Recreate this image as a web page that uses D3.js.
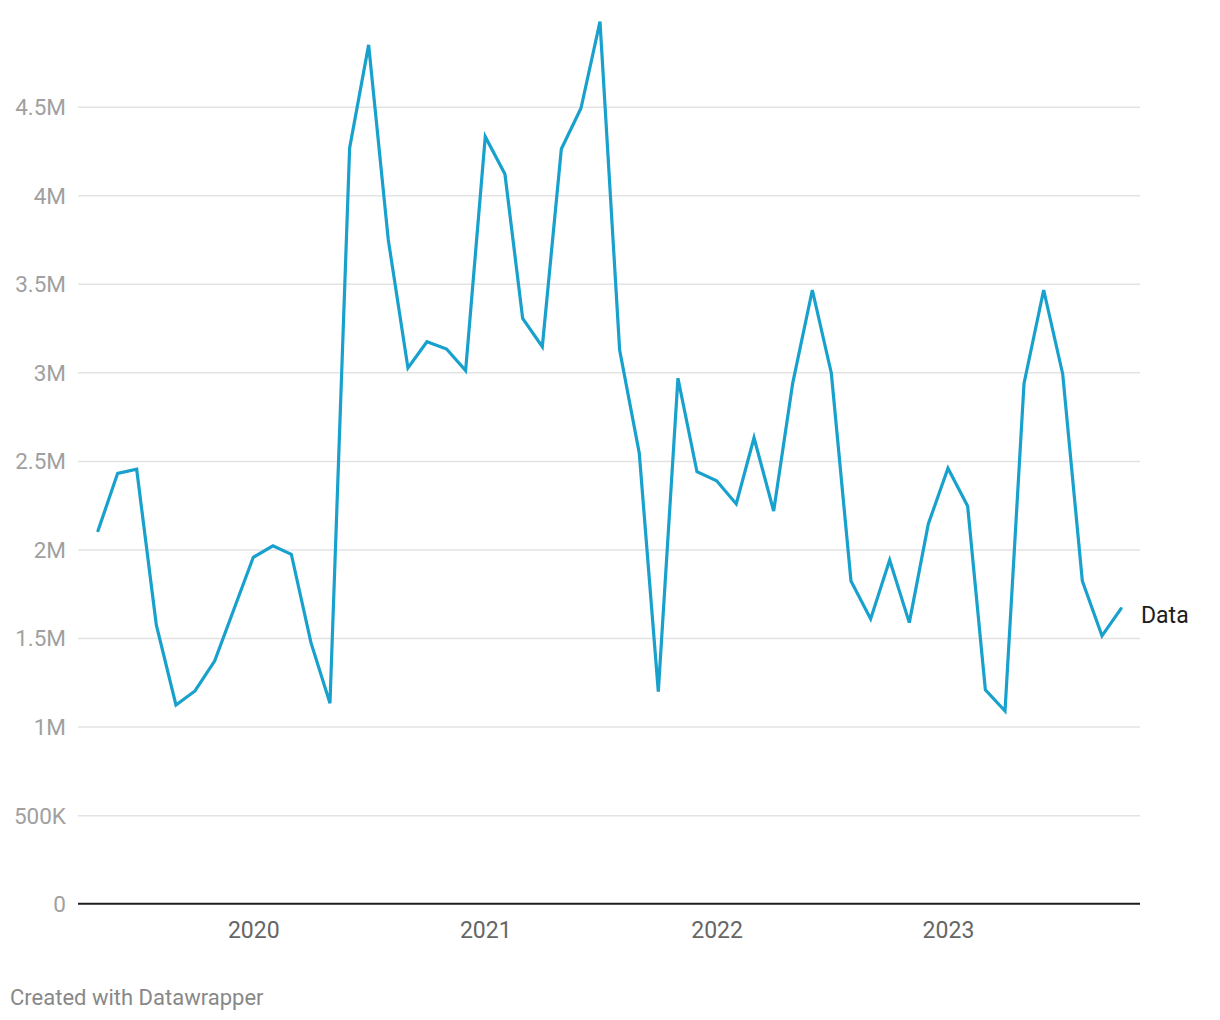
<!DOCTYPE html>
<html><head><meta charset="utf-8">
<script src="https://cdn.jsdelivr.net/npm/d3@7"></script>
<style>
html,body{margin:0;padding:0;background:#fff;}
svg{display:block;font-family:Roboto,"Noto Sans",sans-serif;}
</style></head>
<body>
<svg id="chart" width="1220" height="1020"></svg>
<script>
const months = ["2019-05","2019-06","2019-07","2019-08","2019-09","2019-10","2019-11","2019-12",
"2020-01","2020-02","2020-03","2020-04","2020-05","2020-06","2020-07","2020-08","2020-09","2020-10","2020-11","2020-12",
"2021-01","2021-02","2021-03","2021-04","2021-05","2021-06","2021-07","2021-08","2021-09","2021-10","2021-11","2021-12",
"2022-01","2022-02","2022-03","2022-04","2022-05","2022-06","2022-07","2022-08","2022-09","2022-10","2022-11","2022-12",
"2023-01","2023-02","2023-03","2023-04","2023-05","2023-06","2023-07","2023-08","2023-09","2023-10"];
const values = [2.106,2.430,2.453,1.574,1.122,1.201,1.370,1.658,
1.956,2.021,1.973,1.474,1.132,4.267,4.849,3.748,3.025,3.173,3.132,3.010,
4.331,4.120,3.305,3.145,4.261,4.491,4.980,3.126,2.543,1.197,2.967,2.439,
2.388,2.257,2.631,2.217,2.938,3.465,2.995,1.822,1.608,1.941,1.587,2.144,
2.459,2.246,1.207,1.088,2.938,3.465,2.991,1.822,1.512,1.666].map(v=>v*1e6);
const yTicks = [0,500000,1000000,1500000,2000000,2500000,3000000,3500000,4000000,4500000];
const yTickLabels = ["0","500K","1M","1.5M","2M","2.5M","3M","3.5M","4M","4.5M"];
const xTicks = ["2020-01","2021-01","2022-01","2023-01"];
const xTickLabels = ["2020","2021","2022","2023"];
const seriesName = "Data";

const parse = d3.timeParse("%Y-%m");
const data = months.map((m,i)=>({date:parse(m), value:values[i]}));

const svg = d3.select("#chart");
const x = d3.scaleTime().domain([parse("2019-05"), parse("2023-10")]).range([98,1121]);
const y = d3.scaleLinear().domain([0,4500000]).range([903.7,106.7]);

// gridlines + y labels
const yAxis = d3.axisLeft(y).tickValues(yTicks).tickSize(-(1140-78)).tickFormat((d,i)=>yTickLabels[i]);
const gy = svg.append("g").attr("transform","translate(78,0)").call(yAxis);
gy.select(".domain").remove();
gy.selectAll(".tick line").attr("stroke","#e3e3e3").attr("stroke-width",1.5);
gy.selectAll(".tick text").attr("x",-12).attr("fill","#a0a0a0").attr("font-size",22.5).attr("font-family","Roboto").attr("dy","0.35em");
gy.selectAll(".tick").filter(d=>d===0).select("line").remove();

// x axis
const xAxis = d3.axisBottom(x).tickValues(xTicks.map(parse)).tickSize(0).tickFormat((d,i)=>xTickLabels[i]);
const gx = svg.append("g").attr("transform","translate(0,903.7)").call(xAxis);
gx.select(".domain").remove();
gx.selectAll(".tick text").attr("y",26).attr("dy","0.35em").attr("fill","#666").attr("font-size",23).attr("font-family","Roboto");

// baseline
svg.append("line").attr("x1",78).attr("x2",1140).attr("y1",y(0)).attr("y2",y(0))
  .attr("stroke","#1d1d1d").attr("stroke-width",2);

// line
const line = d3.line().x(d=>x(d.date)).y(d=>y(d.value));
svg.append("path").datum(data).attr("d",line).attr("fill","none")
  .attr("stroke","#18a1cd").attr("stroke-width",3.2).attr("stroke-linejoin","miter").attr("stroke-linecap","round");

// series label
const last = data[data.length-1];
svg.append("text").attr("x",x(last.date)+20).attr("y",y(last.value)+6).attr("dy","0.35em")
  .attr("fill","#1d1d1d").attr("font-size",23).text(seriesName);

// footer
svg.append("text").attr("x",10).attr("y",997).attr("dy","0.35em").attr("fill","#888")
  .attr("font-size",22).text("Created with Datawrapper");
</script>
</body></html>
